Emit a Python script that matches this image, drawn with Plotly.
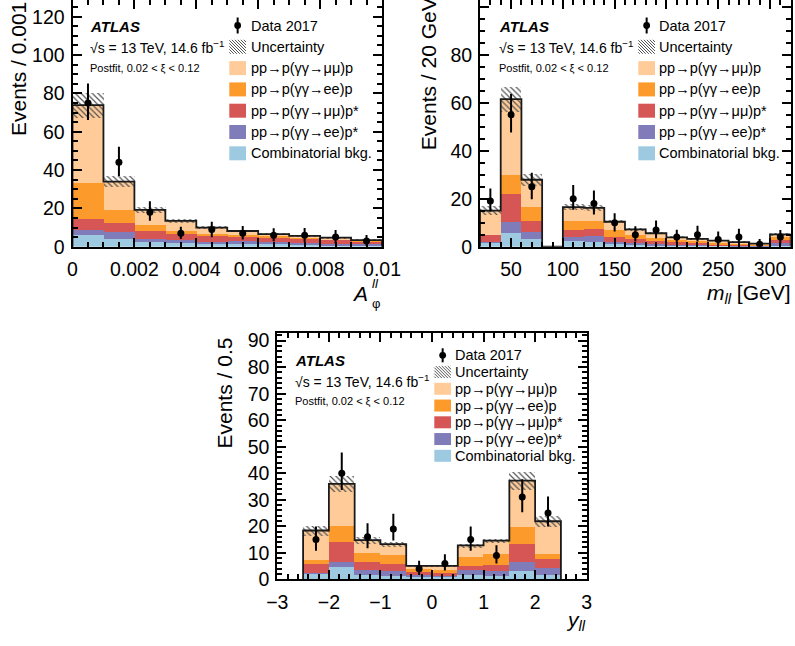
import plotly.graph_objects as go

W, H = 795, 646
FONT = "Liberation Sans, Arial, Helvetica, sans-serif"

# ---------------- data: A_phi^ll panel ----------------
aphi_edges = [0.000, 0.001, 0.002, 0.003, 0.004, 0.005, 0.006, 0.007, 0.008, 0.009, 0.010]
aphi_comb = [6.0, 3.9, 2.4, 1.8, 1.4, 1.6, 1.3, 1.0, 0.8, 0.6]
aphi_ee_pstar = [2.9, 3.6, 1.8, 1.5, 1.2, 1.2, 1.1, 1.0, 0.8, 0.7]
aphi_mm_pstar = [5.4, 5.1, 4.0, 3.2, 3.4, 2.4, 2.6, 2.2, 2.0, 1.6]
aphi_ee_p = [19.1, 6.8, 3.1, 1.7, 0.8, 0.7, 0.6, 0.4, 0.3, 0.1]
aphi_mm_p = [40.5, 14.5, 7.9, 5.3, 3.2, 2.3, 1.0, 1.0, 0.8, 0.4]
aphi_unc = [6.5, 2.8, 1.5, 1.0, 0.8, 0.7, 0.6, 0.5, 0.5, 0.4]
aphi_data = [75, 44, 18, 7, 9, 7, 6, 6, 5, 3]
aphi_err_up = [10.2, 8.2, 5.7, 3.4, 4.0, 3.8, 3.6, 3.7, 3.7, 3.1]
aphi_err_dn = [8.9, 7.1, 4.4, 3.0, 4.1, 3.2, 3.2, 3.6, 3.3, 2.5]
aphi_ticks = [0, 0.002, 0.004, 0.006, 0.008, 0.01]
aphi_ticklabels = ["0", "0.002", "0.004", "0.006", "0.008", "0.01"]

# ---------------- data: m_ll panel ----------------
mll_edges = [20, 40, 60, 80, 100, 120, 140, 160, 180, 200, 220, 240, 260, 280, 300, 320]
mll_comb = [1.7, 5.9, 3.4, 0, 2.4, 1.9, 1.4, 1.0, 0.7, 0.5, 0.4, 0.3, 0.2, 0.1, 0.4]
mll_ee_pstar = [0.2, 4.4, 2.6, 0, 1.5, 2.7, 0.7, 0.7, 0.6, 0.5, 0.4, 0.3, 0.3, 0.2, 1.3]
mll_mm_pstar = [3.0, 11.5, 4.8, 0, 3.2, 2.6, 1.8, 1.4, 1.2, 0.8, 0.7, 0.5, 0.4, 0.3, 1.3]
mll_ee_p = [0.1, 8.2, 5.7, 0, 3.7, 3.6, 3.0, 1.8, 1.3, 1.0, 0.9, 0.6, 0.4, 0.3, 1.2]
mll_mm_p = [10.0, 31.5, 11.4, 0, 5.7, 5.4, 3.5, 2.3, 1.8, 1.1, 0.9, 0.8, 0.6, 0.4, 0.9]
mll_unc = [1.9, 5.2, 2.5, 0, 1.4, 1.3, 0.7, 0.6, 0.5, 0.4, 0.4, 0.3, 0.3, 0.2, 0.7]
mll_data = [19, 55, 25, None, 20, 18, 10, 5, 7, 4, 5, 3, 4, 1, 4]
mll_err_up = [5.3, 8.6, 5.8, None, 5.7, 5.4, 3.9, 3.5, 3.9, 3.1, 3.7, 3.3, 3.5, 2.2, 3.0]
mll_err_dn = [4.4, 7.4, 5.2, None, 4.6, 4.6, 3.7, 2.8, 3.5, 2.5, 2.8, 2.3, 2.5, 1.0, 2.8]

# ---------------- data: y_ll panel ----------------
yll_edges = [-2.5, -2.0, -1.5, -1.0, -0.5, 0.0, 0.5, 1.0, 1.5, 2.0, 2.5]
yll_comb = [2.3, 4.8, 1.6, 1.5, 1.0, 1.0, 1.6, 1.5, 3.3, 1.9]
yll_ee_pstar = [0.2, 2.0, 1.9, 1.8, 0.6, 0.5, 1.9, 1.6, 3.4, 2.5]
yll_mm_pstar = [3.4, 7.4, 3.0, 2.5, 1.1, 1.0, 1.5, 2.4, 6.8, 3.4]
yll_ee_p = [1.4, 6.1, 3.6, 3.5, 1.2, 1.2, 3.6, 4.1, 6.4, 1.8]
yll_mm_p = [11.1, 15.7, 4.7, 4.0, 1.2, 1.4, 4.2, 5.0, 17.3, 12.3]
yll_unc = [1.9, 3.0, 1.3, 0.9, 0.5, 0.5, 0.8, 0.9, 3.4, 2.1]
yll_data = [15, 40, 16, 19, 4, 6, 15, 9, 31, 25]
yll_err_up = [4.9, 7.8, 5.1, 5.7, 3.0, 3.4, 4.9, 3.8, 6.7, 6.2]
yll_err_dn = [4.2, 6.3, 4.3, 4.4, 2.4, 2.7, 4.2, 3.0, 5.7, 5.1]

legend_labels = ["Data 2017", "Uncertainty", "pp\u2192p(\u03b3\u03b3\u2192\u03bc\u03bc)p",
                 "pp\u2192p(\u03b3\u03b3\u2192ee)p", "pp\u2192p(\u03b3\u03b3\u2192\u03bc\u03bc)p*",
                 "pp\u2192p(\u03b3\u03b3\u2192ee)p*", "Combinatorial bkg."]

# stack order bottom -> top
C_COMB, C_EEPS, C_MMPS, C_EEP, C_MMP = "#9ecae1", "#807cba", "#d65555", "#fd9a2c", "#ffcc99"
stack_colors = [C_COMB, C_EEPS, C_MMPS, C_EEP, C_MMP]
legend_colors = [C_MMP, C_EEP, C_MMPS, C_EEPS, C_COMB]


def px(x):
    return x / W


def py(y):
    return 1 - y / H


fig = go.Figure()


def add_panel(edges, comps, unc, data, up, dn, xa, ya):
    n = len(edges) - 1
    centers = [(edges[i] + edges[i + 1]) / 2 for i in range(n)]
    widths = [edges[i + 1] - edges[i] for i in range(n)]
    base = [0.0] * n
    for vals, col in zip(comps, stack_colors):
        fig.add_trace(go.Bar(x=centers, y=vals, base=list(base), width=widths,
                             marker=dict(color=col, line=dict(width=0)),
                             xaxis=xa, yaxis=ya, showlegend=False, hoverinfo="skip"))
        base = [b + v for b, v in zip(base, vals)]
    total = base
    fig.add_trace(go.Bar(x=centers, y=[2 * u for u in unc],
                         base=[t - u for t, u in zip(total, unc)], width=widths,
                         marker=dict(color="rgba(0,0,0,0)", line=dict(width=0),
                                     pattern=dict(shape="\\", fgcolor="#555555",
                                                  bgcolor="rgba(0,0,0,0)", size=4,
                                                  solidity=0.3, fillmode="replace")),
                         xaxis=xa, yaxis=ya, showlegend=False, hoverinfo="skip"))
    sx = [edges[0]] + edges[:-1] + [edges[-1], edges[-1]]
    sy = [0] + total + [total[-1], 0]
    fig.add_trace(go.Scatter(x=sx, y=sy, mode="lines",
                             line=dict(color="#1a1a1a", width=1.8, shape="hv"),
                             xaxis=xa, yaxis=ya, showlegend=False, hoverinfo="skip"))
    keep = [i for i in range(n) if data[i] is not None]
    fig.add_trace(go.Scatter(x=[centers[i] for i in keep], y=[data[i] for i in keep],
                             mode="markers", marker=dict(color="black", size=7),
                             error_y=dict(type="data", symmetric=False,
                                          array=[up[i] for i in keep],
                                          arrayminus=[dn[i] for i in keep],
                                          color="black", thickness=2, width=0),
                             xaxis=xa, yaxis=ya, showlegend=False, hoverinfo="skip"))


add_panel(aphi_edges, [aphi_comb, aphi_ee_pstar, aphi_mm_pstar, aphi_ee_p, aphi_mm_p],
          aphi_unc, aphi_data, aphi_err_up, aphi_err_dn, "x", "y")
add_panel(mll_edges, [mll_comb, mll_ee_pstar, mll_mm_pstar, mll_ee_p, mll_mm_p],
          mll_unc, mll_data, mll_err_up, mll_err_dn, "x2", "y2")
add_panel(yll_edges, [yll_comb, yll_ee_pstar, yll_mm_pstar, yll_ee_p, yll_mm_p],
          yll_unc, yll_data, yll_err_up, yll_err_dn, "x3", "y3")
# empty traces so that the top tick axes of the upper panels exist
fig.add_trace(go.Scatter(x=[], y=[], xaxis="x4", yaxis="y", showlegend=False))
fig.add_trace(go.Scatter(x=[], y=[], xaxis="x5", yaxis="y2", showlegend=False))

TICKFONT = dict(family=FONT, size=19.5, color="black")
common = dict(showgrid=False, zeroline=False, ticks="inside", ticklen=9, tickwidth=1.5,
              tickcolor="black", linecolor="black", linewidth=2, tickfont=TICKFONT,
              fixedrange=True, automargin=False)


def minor(dt, t0=0):
    return dict(ticks="inside", ticklen=5, tickwidth=1.5, tickcolor="black", dtick=dt, tick0=t0)


top_dom = [py(246.7), 1.0]
fig.update_layout(
    template="none",
    width=W, height=H, autosize=False, margin=dict(l=0, r=0, t=0, b=0, pad=0),
    paper_bgcolor="white", plot_bgcolor="white", barmode="overlay", bargap=0,
    showlegend=False, font=dict(family=FONT, color="black"),
    xaxis=dict(common, domain=[px(72.5), px(382)], range=[0, 0.01], anchor="y",
               showline=True, mirror=False, tickmode="array", tickvals=aphi_ticks,
               ticktext=aphi_ticklabels, minor=minor(0.0005), ticklabelstandoff=4),
    yaxis=dict(common, domain=top_dom, range=[0, 246.7 / 1.9167], anchor="x",
               showline=True, mirror="ticks", dtick=20, tick0=0, minor=minor(5),
               ticklabelstandoff=2),
    xaxis4=dict(common, overlaying="x", side="top", anchor="y", range=[0, 0.01],
                showline=False, showticklabels=False, tickmode="array",
                tickvals=aphi_ticks, minor=minor(0.0005)),
    xaxis2=dict(common, domain=[px(480), px(790.7)], range=[20, 320], anchor="y2",
                showline=True, mirror=False, dtick=50, tick0=0, minor=minor(10),
                ticklabelstandoff=4),
    yaxis2=dict(common, domain=top_dom, range=[0, 246.7 / 2.4], anchor="x2",
                showline=True, mirror="ticks", dtick=20, tick0=0, minor=minor(5),
                ticklabelstandoff=2),
    xaxis5=dict(common, overlaying="x2", side="top", anchor="y2", range=[20, 320],
                showline=False, showticklabels=False, dtick=50, tick0=0, minor=minor(10)),
    xaxis3=dict(common, domain=[px(277.3), px(586.7)], range=[-3, 3], anchor="y3",
                showline=True, mirror="ticks", dtick=1, tick0=0, minor=minor(0.2),
                ticklabelstandoff=4),
    yaxis3=dict(common, domain=[py(579.3), py(332.7)], range=[0, 93], anchor="x3",
                showline=True, mirror="ticks", dtick=10, tick0=0, minor=minor(2),
                ticklabelstandoff=2),
)

shapes = []
annotations = []


def ann(x, y, text, size, xanchor="left", yanchor="middle", angle=0):
    annotations.append(dict(x=px(x), y=py(y), xref="paper", yref="paper", text=text,
                            showarrow=False, xanchor=xanchor, yanchor=yanchor,
                            textangle=angle, font=dict(family=FONT, size=size, color="black"),
                            borderpad=0))


def hatch_path(x0, y0, x1, y1, step):
    segs = []
    c = x0 - y1 + step / 2
    while c < x1 - y0:
        ya = max(y0, x0 - c)
        yb = min(y1, x1 - c)
        if yb > ya:
            segs.append("M%.5f,%.5f L%.5f,%.5f" % (px(ya + c), py(ya), px(yb + c), py(yb)))
        c += step
    return " ".join(segs)


def add_legend(x0, x1, xt, y_start, dy, sh):
    rows = [y_start + dy * i for i in range(7)]
    xc = (x0 + x1) / 2
    # data marker
    y = rows[0]
    shapes.append(dict(type="line", xref="paper", yref="paper", x0=px(xc), x1=px(xc),
                       y0=py(y - sh / 2 - 1), y1=py(y + sh / 2 + 1),
                       line=dict(color="black", width=2)))
    r = 3.4
    shapes.append(dict(type="circle", xref="paper", yref="paper", x0=px(xc - r), x1=px(xc + r),
                       y0=py(y - r), y1=py(y + r), fillcolor="black",
                       line=dict(color="black", width=0)))
    # uncertainty hatch
    y = rows[1]
    shapes.append(dict(type="path", xref="paper", yref="paper",
                       path=hatch_path(x0, y - sh / 2, x1, y + sh / 2, 3.0),
                       line=dict(color="#555555", width=1)))
    for k, col in enumerate(legend_colors):
        y = rows[k + 2]
        shapes.append(dict(type="rect", xref="paper", yref="paper", x0=px(x0), x1=px(x1),
                           y0=py(y + sh / 2), y1=py(y - sh / 2), fillcolor=col,
                           line=dict(width=0)))
    for k, lab in enumerate(legend_labels):
        ann(xt, rows[k], lab, 14.5)


def add_labels(x, y0, dy1, dy2):
    ann(x, y0, "<b><i>ATLAS</i></b>", 15)
    ann(x, y0 + dy1, "\u221as = 13 TeV, 14.6 fb<sup>\u22121</sup>", 14)
    ann(x, y0 + dy1 + dy2, "Postfit, 0.02 &lt; \u03be &lt; 0.12", 11)


add_legend(229.3, 246.0, 250.0, 25.5, 21.3, 14)
add_legend(638.3, 655.0, 658.3, 25.5, 21.3, 14)
add_legend(434.3, 451.0, 454.3, 355.3, 16.75, 12)
add_labels(89.3, 26.7, 20.0, 21.6)
add_labels(498.3, 26.7, 20.0, 21.6)
add_labels(294.0, 360.0, 21.0, 20.0)

# axis titles
ann(18, 137, "Events / 0.001", 21, xanchor="center", yanchor="bottom", angle=-90)
ann(428, 151.7, "Events / 20 GeV", 21, xanchor="center", yanchor="bottom", angle=-90)
ann(224, 450, "Events / 0.5", 21, xanchor="center", yanchor="bottom", angle=-90)
ann(369, 294, "<i>A</i>", 21, xanchor="right")
ann(370.5, 283.5, "<i>ll</i>", 13, xanchor="left")
ann(370.5, 303.5, "\u03c6", 13, xanchor="left")
ann(791.7, 294, "<i>m</i><sub><i>ll</i></sub> [GeV]", 21, xanchor="right")
ann(587, 621, "<i>y</i><sub><i>ll</i></sub>", 21, xanchor="right")

fig.update_layout(shapes=shapes, annotations=annotations)
fig.write_html("out.html", config={"displayModeBar": False},
               post_script="document.body.style.margin='0';document.body.style.padding='0';"
                           "window.dispatchEvent(new Event('resize'));")
